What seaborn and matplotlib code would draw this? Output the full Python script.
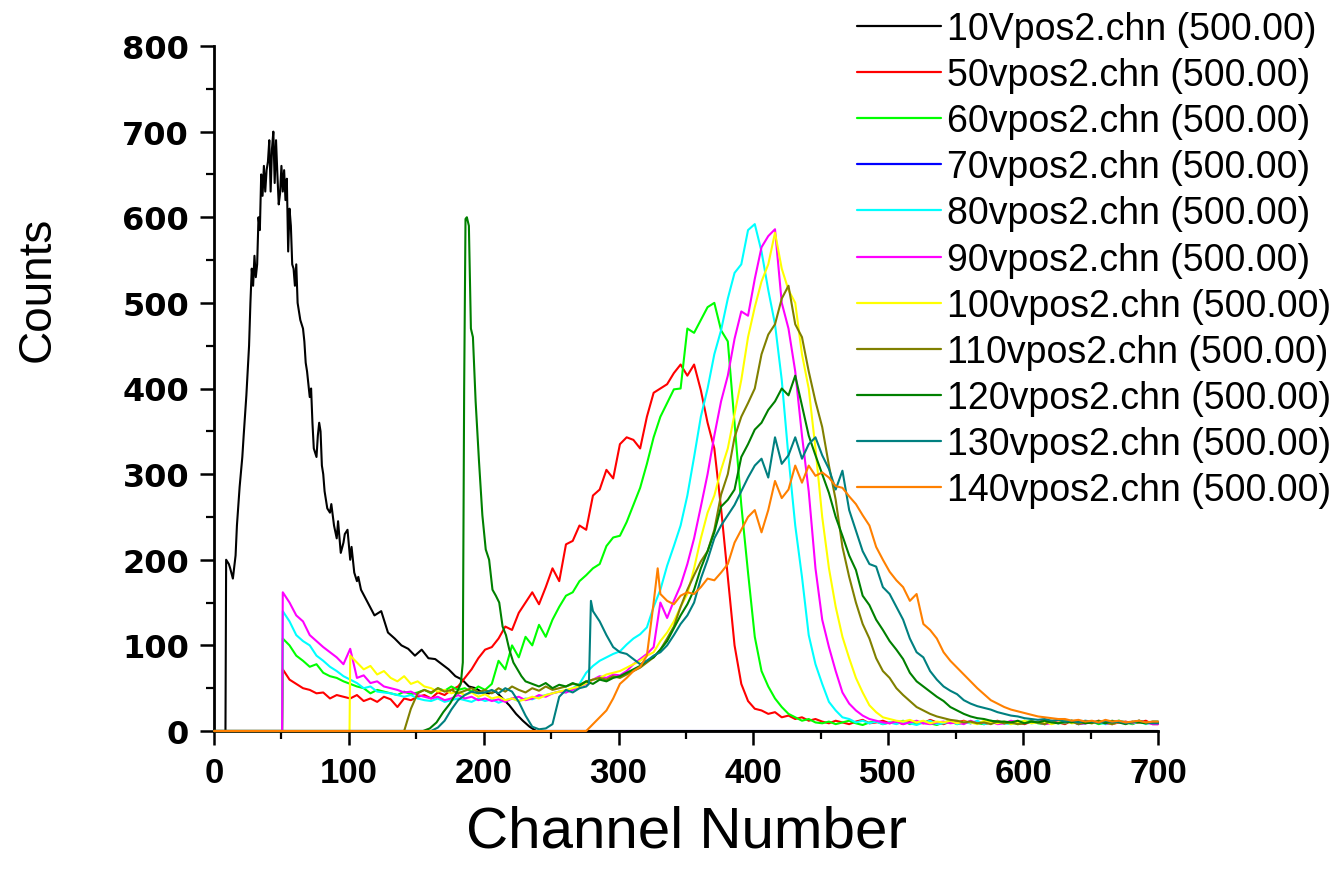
import matplotlib
matplotlib.use("Agg")
import matplotlib.pyplot as plt
from matplotlib.lines import Line2D
from matplotlib.ticker import MultipleLocator
import numpy as np
import pandas as pd
import seaborn as sns

# ---------------- data ----------------
series_labels = ["10Vpos2.chn (500.00)", "50vpos2.chn (500.00)", "60vpos2.chn (500.00)",
                 "70vpos2.chn (500.00)", "80vpos2.chn (500.00)", "90vpos2.chn (500.00)",
                 "100vpos2.chn (500.00)", "110vpos2.chn (500.00)", "120vpos2.chn (500.00)",
                 "130vpos2.chn (500.00)", "140vpos2.chn (500.00)"]
series_colors = ["#000000", "#ff0000", "#00ff00", "#0000ff", "#00ffff", "#ff00ff",
                 "#ffff00", "#808000", "#008000", "#008080", "#ff8000"]

x_ticks = [0, 100, 200, 300, 400, 500, 600, 700]
y_ticks = [0, 100, 200, 300, 400, 500, 600, 700, 800]

# each series: first channel, counts every 5 channels, plus extra (channel, count) points
start_10v = 9
cnt_10v = [200, 178, 285, 392, 520, 585, 655, 700, 628, 645,
           540, 480, 420, 330, 350, 260, 240, 208, 235, 185,
           165, 150, 135, 140, 115, 108, 100, 96, 88, 95,
           85, 84, 78, 72, 64, 60, 52, 50, 45, 44,
           46, 38, 30, 20, 12, 5, 0]
ext_ch_10v = [11, 12, 16, 17, 21, 22, 26, 27, 28, 30, 31, 32, 33, 35, 36, 37, 38,
              40, 41, 42, 43, 45, 46, 47, 48, 50, 51, 52, 53, 55, 56, 57, 58,
              60, 61, 62, 63, 66, 67, 68, 71, 72, 73, 76, 77, 78, 80, 81, 82,
              86, 87, 91, 92, 96, 97, 101, 102, 106, 107]
ext_cnt_10v = [195, 190, 205, 240, 320, 345, 450, 500, 540, 555, 530, 545, 600, 650, 625, 660, 630,
               665, 690, 630, 680, 640, 690, 650, 615, 660, 630, 655, 620, 560, 610, 590, 545,
               520, 545, 500, 490, 470, 455, 430, 390, 400, 360, 320, 345, 360, 310, 300, 280,
               255, 265, 225, 245, 220, 230, 200, 215, 175, 180]

start_50v = 51
cnt_50v = [72, 60, 55, 50, 48, 44, 45, 38, 42, 40,
           38, 42, 35, 38, 34, 40, 37, 28, 38, 36,
           40, 42, 38, 45, 42, 48, 52, 62, 72, 85,
           95, 98, 108, 122, 118, 138, 150, 162, 148, 168,
           190, 175, 218, 222, 240, 235, 275, 282, 305, 295,
           335, 343, 340, 330, 367, 395, 400, 405, 418, 428,
           415, 428, 398, 360, 330, 260, 180, 100, 55, 35,
           26, 24, 20, 22, 16, 18, 14, 16, 12, 14,
           11, 9, 12, 10, 8, 11, 13, 9, 10, 12,
           9, 11, 8, 12, 10, 9, 13, 10, 8, 11,
           10, 12, 9, 11, 8, 10, 12, 9, 11, 10,
           8, 11, 10, 13, 9, 10, 8, 12, 10, 9,
           11, 9, 12, 8, 10, 11, 9, 10, 12, 8]
ext_ch_50v, ext_cnt_50v = [], []

start_60v = 51
cnt_60v = [108, 100, 88, 82, 75, 78, 68, 64, 62, 58,
           55, 52, 50, 44, 48, 46, 44, 42, 46, 43,
           45, 48, 44, 50, 47, 52, 48, 50, 46, 52,
           48, 55, 82, 72, 100, 86, 110, 100, 124, 110,
           130, 145, 158, 162, 175, 182, 190, 195, 216, 226,
           228, 244, 264, 284, 312, 343, 367, 383, 399, 400,
           470, 465, 480, 495, 500, 468, 455, 360, 264, 185,
           110, 70, 52, 38, 28, 20, 16, 12, 14, 10,
           9, 11, 8, 10, 12, 9, 7, 10, 11, 8,
           10, 9, 12, 8, 10, 11, 9, 7, 10, 12,
           8, 10, 11, 9, 8, 12, 10, 9, 11, 8,
           10, 12, 9, 8, 11, 10, 9, 12, 8, 10,
           11, 8, 10, 9, 12, 10, 8, 11, 9, 10]
ext_ch_60v, ext_cnt_60v = [], []

start_70v = 0
cnt_70v = [0, 0]
ext_ch_70v, ext_cnt_70v = [], []

start_80v = 51
cnt_80v = [140, 128, 112, 105, 100, 88, 82, 75, 70, 64,
           60, 56, 50, 52, 46, 45, 44, 42, 40, 42,
           38, 36, 35, 38, 34, 36, 38, 36, 34, 38,
           35, 37, 33, 36, 38, 35, 38, 37, 40, 42,
           44, 46, 45, 50, 55, 68, 76, 82, 86, 90,
           93, 101, 108, 113, 121, 145, 165, 193, 216, 240,
           275, 320, 367, 400, 440, 468, 505, 535, 545, 585,
           592, 560, 515, 475, 410, 320, 240, 180, 112, 78,
           55, 34, 24, 16, 14, 10, 12, 9, 11, 8,
           10, 8, 11, 9, 7, 10, 12, 8, 9, 11,
           8, 10, 9, 12, 8, 10, 11, 9, 8, 10,
           12, 9, 10, 8, 11, 9, 10, 12, 8, 9,
           11, 10, 8, 9, 12, 10, 9, 11, 8, 10]
ext_ch_80v, ext_cnt_80v = [], []

start_90v = 51
cnt_90v = [162, 150, 135, 128, 112, 105, 98, 92, 86, 78,
           96, 62, 65, 56, 58, 52, 50, 48, 45, 46,
           42, 40, 38, 40, 36, 38, 42, 38, 40, 36,
           38, 35, 37, 34, 38, 40, 36, 38, 42, 40,
           44, 46, 45, 48, 52, 55, 60, 64, 62, 66,
           65, 70, 78, 84, 90, 98, 150, 132, 152, 170,
           195, 225, 262, 300, 345, 385, 415, 458, 490, 485,
           528, 565, 578, 586, 500, 470, 420, 345, 280, 190,
           130, 98, 70, 45, 32, 24, 18, 14, 12, 10,
           9, 11, 8, 10, 12, 9, 8, 10, 11, 9,
           10, 8, 12, 9, 10, 11, 8, 9, 12, 10,
           9, 11, 10, 8, 9, 12, 10, 11, 8, 9,
           10, 12, 9, 8, 11, 10, 9, 12, 10, 8]
ext_ch_90v, ext_cnt_90v = [], []

start_100v = 101
cnt_100v = [88, 80, 72, 76, 66, 70, 62, 58, 64, 55,
            58, 52, 50, 46, 48, 44, 46, 42, 45, 40,
            43, 38, 40, 36, 38, 35, 37, 40, 38, 42,
            44, 46, 48, 50, 52, 56, 60, 62, 66, 68,
            70, 74, 78, 82, 88, 92, 105, 115, 128, 145,
            160, 190, 225, 255, 275, 305, 330, 370, 410, 460,
            495, 525, 545, 582, 540, 515, 500, 440, 400, 330,
            250, 190, 145, 110, 85, 62, 45, 30, 22, 16,
            14, 12, 11, 13, 10, 12, 9, 11, 10, 12,
            9, 11, 10, 8, 12, 10, 9, 11, 8, 10,
            12, 9, 10, 11, 8, 10, 12, 9, 10, 11,
            9, 12, 10, 8, 11, 9, 10, 12, 9, 10]
ext_ch_100v, ext_cnt_100v = [], []

start_110v = 141
cnt_110v = [0, 26,
            44, 48, 45, 50, 46, 48, 44, 47, 50, 45,
            48, 44, 50, 46, 52, 48, 45, 50, 47, 52,
            48, 50, 52, 55, 54, 58, 60, 62, 60, 64,
            62, 66, 70, 74, 80, 86, 95, 108, 122, 145,
            165, 182, 198, 210, 235, 276, 300, 343, 367, 383,
            400, 440, 463, 475, 505, 520, 475, 460, 420, 385,
            355, 310, 270, 215, 180, 150, 125, 108, 85, 70,
            62, 50, 42, 35, 28, 24, 20, 17, 15, 13,
            12, 10, 11, 9, 10, 8, 11, 9, 10, 8,
            9, 11, 10, 8, 12, 9, 10, 11, 8, 10,
            9, 12, 10, 8, 11, 9, 10, 12, 9, 10]
ext_ch_110v, ext_cnt_110v = [], []

start_120v = 236
cnt_120v = [55, 52, 56, 50, 54, 52, 56, 53, 58, 55,
            60, 58, 62, 64, 68, 72, 76, 82, 86, 95,
            105, 120, 135, 148, 165, 190, 210, 232, 262, 270,
            282, 320, 335, 352, 360, 375, 385, 400, 392, 415,
            380, 345, 322, 300, 278, 250, 228, 205, 188, 158,
            147, 130, 118, 105, 95, 84, 68, 58, 52, 46,
            40, 35, 28, 24, 20, 17, 15, 14, 12, 11,
            11, 10, 12, 9, 11, 10, 12, 10, 9, 11,
            10, 12, 9, 10, 11, 9, 12, 10, 8, 11, 10, 9, 11]
ext_ch_120v = [155, 160, 165, 170, 175, 180, 183, 184.5, 185.5, 186.5, 187.5, 189,
               190.5, 192, 194, 196.5, 199, 201.5, 204, 206.5, 209, 211.5, 214,
               216.5, 219, 222, 225, 228, 231]
ext_cnt_120v = [0, 3, 10, 22, 32, 45, 55, 80, 400, 598, 600, 590,
                470, 460, 385, 315, 252, 212, 200, 165, 158, 150, 122,
                112, 95, 80, 72, 64, 58]

start_130v = 161
cnt_130v = [0, 4, 12, 25, 36, 42, 46, 44,
            45, 48, 44, 50, 46, 34, 18, 5, 2, 3,
            8, 40, 48, 45, 50, 52, 140, 128, 112, 98,
            92, 90, 84, 78, 82, 88, 92, 100, 112, 125,
            135, 150, 178, 200, 225, 240, 252, 264, 280, 296,
            310, 318, 296, 343, 312, 322, 343, 318, 335, 343,
            322, 306, 282, 304, 258, 234, 210, 195, 192, 168,
            160, 145, 130, 108, 92, 86, 70, 60, 52, 47,
            43, 36, 32, 29, 27, 25, 22, 20, 18, 17,
            15, 14, 13, 14, 12, 13, 11, 12, 10, 12,
            11, 9, 12, 10, 11, 9, 10, 12, 10, 9]
ext_ch_130v = [278, 279.5]
ext_cnt_130v = [55, 152]

start_140v = 276
cnt_140v = [0, 8, 16, 24, 38, 55, 62, 70, 75, 88,
            150, 160, 152, 148, 158, 162, 160, 168, 178, 176,
            185, 195, 220, 235, 250, 258, 232, 258, 292, 272,
            282, 310, 290, 310, 298, 302, 296, 286, 284, 274,
            265, 252, 240, 215, 200, 186, 176, 168, 152, 160,
            125, 118, 108, 92, 82, 74, 66, 58, 50, 43,
            36, 32, 28, 25, 23, 21, 19, 17, 16, 15,
            14, 14, 12, 13, 11, 12, 10, 13, 11, 12,
            10, 11, 12, 10, 11]
ext_ch_140v = [329]
ext_cnt_140v = [190]

series_data = [
    (start_10v, cnt_10v, ext_ch_10v, ext_cnt_10v),
    (start_50v, cnt_50v, ext_ch_50v, ext_cnt_50v),
    (start_60v, cnt_60v, ext_ch_60v, ext_cnt_60v),
    (start_70v, cnt_70v, ext_ch_70v, ext_cnt_70v),
    (start_80v, cnt_80v, ext_ch_80v, ext_cnt_80v),
    (start_90v, cnt_90v, ext_ch_90v, ext_cnt_90v),
    (start_100v, cnt_100v, ext_ch_100v, ext_cnt_100v),
    (start_110v, cnt_110v, ext_ch_110v, ext_cnt_110v),
    (start_120v, cnt_120v, ext_ch_120v, ext_cnt_120v),
    (start_130v, cnt_130v, ext_ch_130v, ext_cnt_130v),
    (start_140v, cnt_140v, ext_ch_140v, ext_cnt_140v),
]

STEP = 5
X_MAX = 700

rows = []
for label, (start, vals, ech, ecnt) in zip(series_labels, series_data):
    ch = [start + STEP * i for i in range(len(vals))] + list(ech)
    cn = list(vals) + list(ecnt)
    first = min(ch)
    if first > 0:
        ch = [0, first - 0.5] + ch
        cn = [0, 0] + cn
    order = np.argsort(ch, kind="stable")
    ch = [ch[i] for i in order]
    cn = [cn[i] for i in order]
    if ch[-1] < X_MAX:
        ch.append(X_MAX)
        cn.append(cn[-1])
    for c, v in zip(ch, cn):
        rows.append({"Series": label, "Channel": c, "Counts": v})
df = pd.DataFrame(rows)

# ---------------- styling ----------------
sns.set_theme(style="ticks")
plt.rcParams["font.family"] = ["Liberation Sans", "DejaVu Sans"]
plt.rcParams["axes.unicode_minus"] = False

W, H = 1341, 878
fig = plt.figure(figsize=(W / 100, H / 100), dpi=100)
fig.patch.set_facecolor("white")
ax = fig.add_axes([214 / W, 1 - 732 / H, 944 / W, 685 / H])
ax.set_facecolor("white")

sns.lineplot(data=df, x="Channel", y="Counts", hue="Series", hue_order=series_labels,
             palette=series_colors, estimator=None, sort=True, linewidth=1.5,
             legend=False, ax=ax)
for ln, lab in zip(ax.lines, series_labels):
    ln.set_clip_on(False)
    # the empty 70 V trace lies under the axis line; the others sit above it
    ln.set_zorder(1.5 if lab.startswith("70v") else 3)

ax.set_xlim(0, 700)
ax.set_ylim(0, 800)
ax.set_xticks(x_ticks)
ax.set_yticks(y_ticks)
ax.xaxis.set_minor_locator(MultipleLocator(50))
ax.yaxis.set_minor_locator(MultipleLocator(50))

for s in ["top", "right"]:
    ax.spines[s].set_visible(False)
for s in ["left", "bottom"]:
    ax.spines[s].set_linewidth(2.0)
    ax.spines[s].set_color("black")
    ax.spines[s].set_zorder(2.5)

ax.tick_params(axis="both", which="major", length=10, width=1.8, direction="out",
               color="black")
ax.tick_params(axis="both", which="minor", length=6, width=1.6, direction="out",
               color="black")

ax.set_xticklabels([str(v) for v in x_ticks], fontfamily="Liberation Sans",
                   fontweight="bold", fontsize=25, color="black")
ax.set_yticklabels([str(v) for v in y_ticks], fontfamily="DejaVu Sans", fontweight="bold",
                   fontsize=23, color="black")
ax.tick_params(axis="x", pad=8)
ax.tick_params(axis="y", pad=8)

ax.set_xlabel("Channel Number", fontsize=42, fontfamily="Liberation Sans", color="black",
              va="center")
ax.xaxis.set_label_coords(0.5, (732 - 833) / 685)
ax.set_ylabel("Counts", fontsize=33, fontfamily="Liberation Sans", color="black",
              va="center")
ax.yaxis.set_label_coords((38 - 214) / 944, (732 - 289) / 685)

handles = [Line2D([0], [0], color=c, lw=1.6) for c in series_colors]
leg = fig.legend(handles, series_labels, loc="upper left",
                 bbox_to_anchor=(857 / W, 1 - 12 / H), bbox_transform=fig.transFigure,
                 frameon=False, fontsize=27, handlelength=2.25, handletextpad=0.15,
                 labelspacing=0.27, borderpad=0, borderaxespad=0)
for t in leg.get_texts():
    t.set_color("black")

fig.savefig("out.png", dpi=100, facecolor="white")
